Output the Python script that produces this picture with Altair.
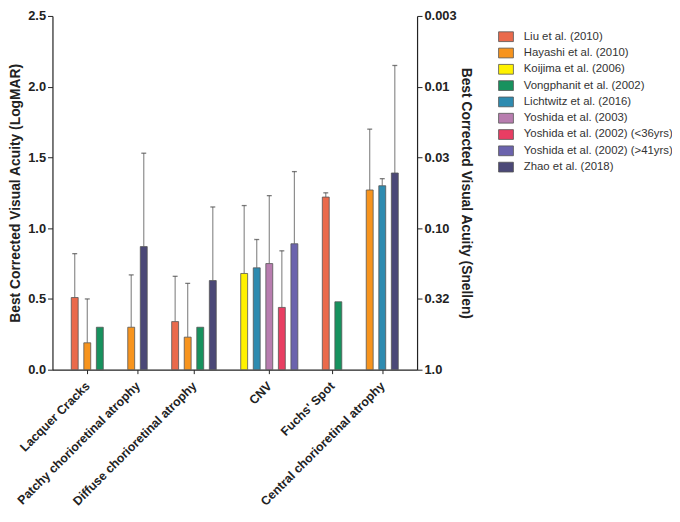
import json
import altair as alt
import pandas as pd

groups = ["Lacquer Cracks", "Patchy chorioretinal atrophy", "Diffuse chorioretinal atrophy",
          "CNV", "Fuchs' Spot", "Central chorioretinal atrophy"]

series = ["Liu et al. (2010)", "Hayashi et al. (2010)", "Koijima et al. (2006)",
          "Vongphanit et al. (2002)", "Lichtwitz et al. (2016)", "Yoshida et al. (2003)",
          "Yoshida et al. (2002) (<36yrs)", "Yoshida et al. (2002) (>41yrs)", "Zhao et al. (2018)"]

colors = ["#EA6A4C", "#F7941E", "#FFF200", "#17925E", "#2E8BB0", "#B87DAF",
          "#E83E63", "#6B63AD", "#4B4877"]

# one entry per bar: group index, series index, mean, upper end of error bar (None = no bar)
bar_group = [0, 0, 0, 1, 1, 2, 2, 2, 2, 3, 3, 3, 3, 3, 4, 4, 5, 5, 5]
bar_series = [0, 1, 3, 1, 8, 0, 1, 3, 8, 2, 4, 5, 6, 7, 0, 3, 1, 4, 8]
bar_value = [0.51, 0.19, 0.30, 0.30, 0.87, 0.34, 0.23, 0.30, 0.63,
             0.68, 0.72, 0.75, 0.44, 0.89, 1.22, 0.48, 1.27, 1.30, 1.39]
bar_upper = [0.82, 0.50, None, 0.67, 1.53, 0.66, 0.61, None, 1.15,
             1.16, 0.92, 1.23, 0.84, 1.40, 1.25, None, 1.70, 1.35, 2.15]

logmar_ticks = [0.0, 0.5, 1.0, 1.5, 2.0, 2.5]
snellen_labels = ["1.0", "0.32", "0.10", "0.03", "0.01", "0.003"]

GROUP_GAP = 1.5
pos = [i + g * GROUP_GAP for i, g in enumerate(bar_group)]
df = pd.DataFrame({
    "group": [groups[g] for g in bar_group],
    "series": [series[s] for s in bar_series],
    "pos": pos,
    "value": bar_value,
    "upper": bar_upper,
})
centers = df.groupby("group", sort=False)["pos"].mean()
center_vals = [float(centers[g]) for g in groups]

label_expr = ""
for v, g in zip(center_vals, groups):
    label_expr += f"abs(datum.value - {v}) < 0.01 ? {json.dumps(g)} : "
label_expr += "''"

snellen_expr = ""
for v, s in zip(logmar_ticks, snellen_labels):
    snellen_expr += f"abs(datum.value - {v}) < 0.01 ? {json.dumps(s)} : "
snellen_expr += "''"

FONT = "Liberation Sans"

xscale = alt.Scale(domain=[-1.38, 26.88], nice=False, zero=False)
yscale = alt.Scale(domain=[0, 2.5], nice=False)

xaxis = alt.Axis(values=center_vals, labelExpr=label_expr, labelAngle=-45, labelAlign="right",
                 labelBaseline="middle", labelFontWeight="bold", labelFontSize=12.5, title=None,
                 grid=False, tickSize=4, labelPadding=10, labelOverlap=False, labelLimit=0)

err = df.dropna(subset=["upper"])

rules = alt.Chart(err).mark_rule(color="#8c8c8c", strokeWidth=1.2).encode(
    x=alt.X("pos:Q", scale=xscale, axis=xaxis),
    y=alt.Y("value:Q", scale=yscale, axis=None),
    y2="upper:Q",
)

caps = alt.Chart(err).mark_tick(color="#444444", thickness=1.3, size=5, orient="horizontal").encode(
    x=alt.X("pos:Q", scale=xscale, axis=xaxis),
    y=alt.Y("upper:Q", scale=yscale,
            axis=alt.Axis(orient="right", values=logmar_ticks, labelExpr=snellen_expr,
                          title="Best Corrected Visual Acuity (Snellen)", grid=False,
                          labelFontWeight="bold", labelFontSize=13, titleFontSize=14,
                          titleFontWeight="bold", tickSize=5, titlePadding=2)),
)

bars = alt.Chart(df).mark_bar(size=7, stroke="#555555", strokeWidth=0.8).encode(
    x=alt.X("pos:Q", scale=xscale, axis=xaxis),
    y=alt.Y("value:Q", scale=yscale,
            axis=alt.Axis(orient="left", values=logmar_ticks, format=".1f",
                          title="Best Corrected Visual Acuity (LogMAR)", grid=False,
                          labelFontWeight="bold", labelFontSize=13, titleFontSize=14,
                          titleFontWeight="bold", tickSize=5, titlePadding=5)),
    color=alt.Color("series:N", scale=alt.Scale(domain=series, range=colors),
                    legend=alt.Legend(title=None, orient="none", legendX=451, legendY=13,
                                      symbolType="M-1,-0.66H1V0.66H-1Z", symbolSize=225,
                                      symbolStrokeColor="#555555", symbolStrokeWidth=0.8,
                                      labelFontSize=11.5, rowPadding=1.5, labelOffset=10,
                                      labelLimit=0)),
)

chart = alt.layer(rules, bars, caps).resolve_scale(y="shared").resolve_axis(y="independent").properties(
    width=369, height=358,
    autosize=alt.AutoSizeParams(type="none"),
    padding={"left": 45, "top": 5, "right": 258, "bottom": 143},
).configure_view(stroke=None).configure_axis(
    domainColor="#222222", tickColor="#222222", labelColor="#222222", titleColor="#222222",
    labelFont=FONT, titleFont=FONT, domainWidth=1.2,
).configure_legend(labelFont=FONT, labelColor="#333333")

chart.save("out.html", embed_options={"renderer": "svg", "actions": False})
